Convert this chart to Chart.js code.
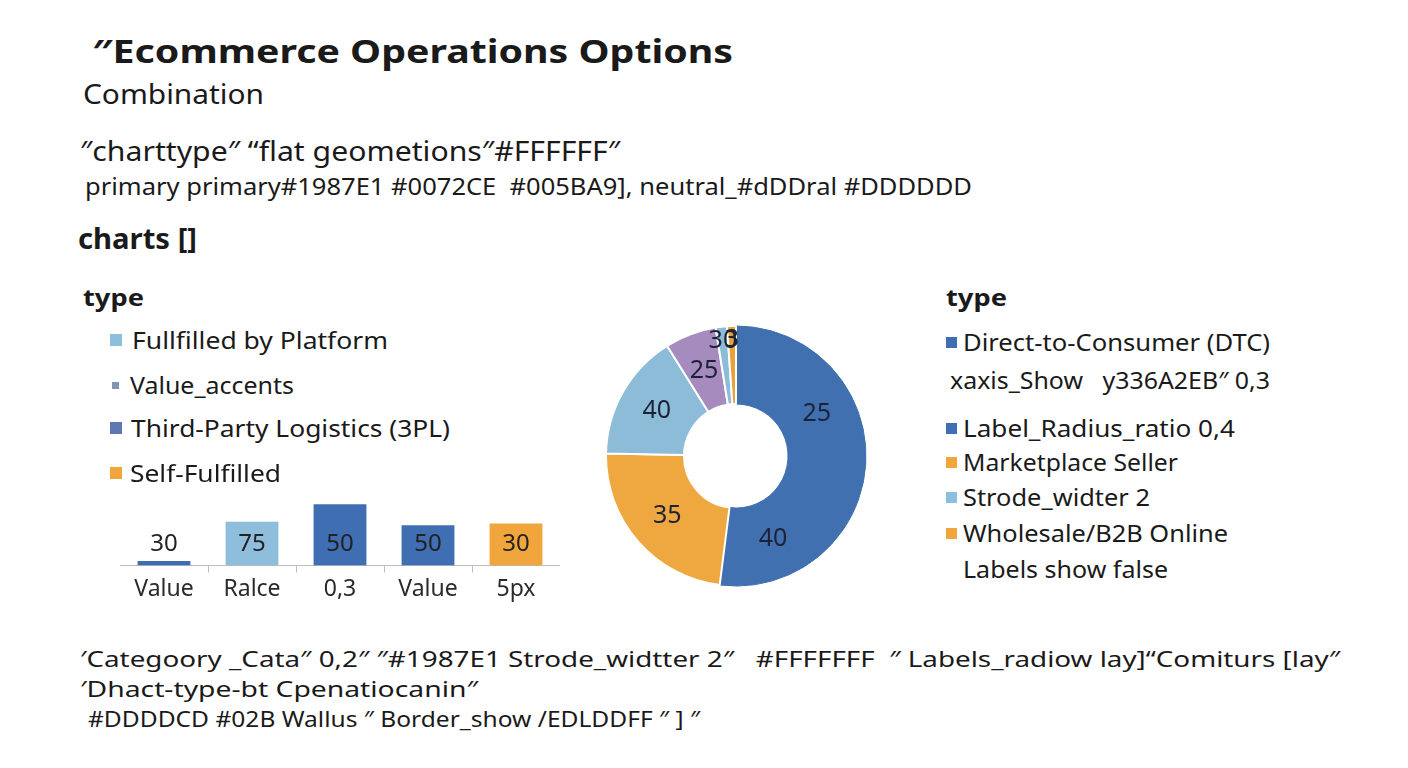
<!DOCTYPE html>
<html lang="en">
<head>
    <meta charset="UTF-8">
    <title>Ecommerce Operations Options</title>
    <script src="https://cdn.jsdelivr.net/npm/chart.js"></script>
    <style>
        body {
            margin: 0;
            width: 1408px;
            height: 768px;
            background: #fff;
            position: relative;
            overflow: hidden;
            font-family: "Noto Sans", "Open Sans", sans-serif;
            color: #1a1a1a;
        }
        .txt {
            position: absolute;
            white-space: pre;
            line-height: 1;
            transform-origin: 0 50%;
        }
        .mark {
            position: absolute;
        }
        #barWrap {
            position: absolute;
            left: 120px;
            top: 478px;
            width: 440px;
            height: 128px;
        }
        #pieWrap {
            position: absolute;
            left: 605px;
            top: 325px;
            width: 262px;
            height: 262px;
        }
    </style>
</head>
<body>

<div id="barWrap"><canvas id="barChart"></canvas></div>
<div id="pieWrap"><canvas id="donutChart"></canvas></div>

<script>
    // bar chart data (heights, printed labels as shown)
    var barCategories = ['Value', 'Ralce', '0,3', 'Value', '5px'];
    var barValues = [5, 50, 70, 46, 48];
    var barValueLabels = ['30', '75', '50', '50', '30'];
    var barColors = ['#3E6CAF', '#8FBEDC', '#3F6EB2', '#3F6EB2', '#F0A63C'];

    // doughnut data (share of the ring, in percent) and the numbers printed on it
    var donutSlices = ['DTC a', 'DTC b', 'Marketplace', 'Platform', '3PL', 'Accents', 'Wholesale'];
    var donutValues = [34.7, 17.3, 23.3, 15.8, 6.4, 1.4, 1.1];
    var donutLabels = ['25', '40', '35', '40', '25', '30', '3'];
    var donutColors = ['#4170B0', '#4170B0', '#EFA73F', '#8DBCD9', '#A68BBF', '#8DBCD9', '#E7A23A'];

    // legends
    var leftLegend = ['Fullfilled by Platform', 'Value_accents', 'Third-Party Logistics (3PL)', 'Self-Fulfilled'];
    var leftLegendColors = ['#8DBEDD', '#8196B3', '#5F78B5', '#F0A63B'];
    var rightLegend = ['Direct-to-Consumer (DTC)', 'xaxis_Show   y336A2EB\u2033 0,3', 'Label_Radius_ratio 0,4',
        'Marketplace Seller', 'Strode_widter 2', 'Wholesale/B2B Online', 'Labels show false'];
    var rightLegendColors = ['#3F6EB2', null, '#3F6EB2', '#F0A63B', '#8DBEDD', '#F0A63B', null];

    // page texts: [text, left, centre y, width, size, bold]
    var texts = [
        ['\u2033Ecommerce Operations Options', 92, 50, 641, 33, true],
        ['Combination', 83, 93, 181, 27, false],
        ['\u2033charttype\u2033 \u201Cflat geometions\u2033#FFFFFF\u2033', 80, 150, 540, 28, false],
        ['primary primary#1987E1 #0072CE  #005BA9], neutral_#dDDral #DDDDDD', 85, 186, 887, 23, false],
        ['charts []', 78, 238, 119, 28, true],
        ['type', 83, 297, 61, 24, true],
        ['type', 946, 297, 61, 24, true],
        ['\u2032Categoory _Cata\u2033 0,2\u2033 \u2033#1987E1 Strode_widtter 2\u2033   #FFFFFFF  \u2033 Labels_radiow lay]\u201CComiturs [lay\u2033', 80, 658, 1260, 22, false],
        ['\u2032Dhact-type-bt Cpenatiocanin\u2033', 80, 688, 398, 22, false],
        ['#DDDDCD #02B Wallus \u2033 Border_show /EDLDDFF \u2033 ] \u2033', 88, 718, 612, 22, false]
    ];
    var leftRows = [[132, 340, 256], [130, 385, 164], [131, 428, 319], [130, 473, 151]];
    var rightRows = [[963, 342, 307], [950, 380, 320], [963, 428, 272], [963, 462, 215],
        [963, 497, 187], [963, 533, 265], [963, 569, 205]];

    function addText(t, x, y, w, size, bold) {
        var d = document.createElement('div');
        d.className = 'txt';
        d.textContent = t;
        d.style.fontSize = size + 'px';
        d.style.fontWeight = bold ? '700' : '400';
        d.style.left = x + 'px';
        d.style.top = (y - size / 2) + 'px';
        document.body.appendChild(d);
        var real = d.getBoundingClientRect().width;
        if (real > 0) d.style.transform = 'scaleX(' + (w / real) + ')';
    }

    function addMark(x, y, s, color) {
        var m = document.createElement('div');
        m.className = 'mark';
        m.style.left = x + 'px';
        m.style.top = (y - s / 2) + 'px';
        m.style.width = s + 'px';
        m.style.height = s + 'px';
        m.style.background = color;
        document.body.appendChild(m);
    }

    texts.forEach(function (t) { addText(t[0], t[1], t[2], t[3], t[4], t[5]); });

    leftLegend.forEach(function (name, i) {
        var r = leftRows[i];
        addText(name, r[0], r[1], r[2], 24, false);
        var s = i === 1 ? 7 : 12;
        addMark(i === 1 ? 112 : 110, r[1], s, leftLegendColors[i]);
    });

    rightLegend.forEach(function (name, i) {
        var r = rightRows[i];
        addText(name, r[0], r[1], r[2], 24, false);
        if (rightLegendColors[i]) addMark(946, r[1], 11, rightLegendColors[i]);
    });

    // numbers on the bars
    var barLabelPlugin = {
        id: 'barLabels',
        afterDatasetsDraw: function (chart) {
            var ctx = chart.ctx;
            var base = chart.scales.y.getPixelForValue(0);
            ctx.save();
            ctx.font = '24px "Noto Sans"';
            ctx.fillStyle = '#222';
            ctx.textAlign = 'center';
            ctx.textBaseline = 'middle';
            chart.getDatasetMeta(0).data.forEach(function (bar, i) {
                ctx.fillText(barValueLabels[i], bar.x, base - 21);
            });
            ctx.restore();
        }
    };

    new Chart(document.getElementById('barChart'), {
        type: 'bar',
        data: {
            labels: barCategories,
            datasets: [{
                data: barValues,
                backgroundColor: barColors,
                categoryPercentage: 0.6,
                barPercentage: 1
            }]
        },
        options: {
            responsive: true,
            maintainAspectRatio: false,
            animation: false,
            layout: { padding: 0 },
            plugins: { legend: { display: false }, tooltip: { enabled: false } },
            scales: {
                y: { display: false, min: 0, max: 100 },
                x: {
                    border: { display: true, color: '#BDBDBD', width: 1 },
                    grid: {
                        drawOnChartArea: false,
                        tickLength: 7,
                        color: function (c) {
                            return (c.index === 0 || c.index === barCategories.length) ? 'rgba(0,0,0,0)' : '#BDBDBD';
                        }
                    },
                    ticks: { color: '#2a2a2a', font: { family: 'Noto Sans', size: 23 }, padding: 3 }
                }
            }
        },
        plugins: [barLabelPlugin]
    });

    // numbers on the ring
    var donutLabelPlugin = {
        id: 'donutLabels',
        afterDatasetsDraw: function (chart) {
            var ctx = chart.ctx;
            ctx.save();
            ctx.font = '25px "Noto Sans"';
            ctx.fillStyle = '#1d2336';
            ctx.textAlign = 'center';
            ctx.textBaseline = 'middle';
            chart.getDatasetMeta(0).data.forEach(function (arc, i) {
                var p = arc.getProps(['x', 'y', 'startAngle', 'endAngle', 'innerRadius', 'outerRadius']);
                var mid = (p.startAngle + p.endAngle) / 2;
                var small = (p.endAngle - p.startAngle) < 0.15;
                var r = small ? p.outerRadius - 14 : (p.innerRadius + p.outerRadius) / 2;
                ctx.fillText(donutLabels[i], p.x + Math.cos(mid) * r, p.y + Math.sin(mid) * r);
            });
            ctx.restore();
        }
    };

    new Chart(document.getElementById('donutChart'), {
        type: 'doughnut',
        data: {
            labels: donutSlices,
            datasets: [{
                data: donutValues,
                backgroundColor: donutColors,
                borderColor: ['#4170B0', '#4170B0', '#fff', '#fff', '#fff', '#fff', '#fff'],
                borderWidth: [1, 1, 2, 2, 2, 2, 2],
                hoverOffset: 0
            }]
        },
        options: {
            responsive: true,
            maintainAspectRatio: false,
            animation: false,
            cutout: '40%',
            layout: { padding: 0 },
            plugins: { legend: { display: false }, tooltip: { enabled: false } }
        },
        plugins: [donutLabelPlugin]
    });
</script>

</body>
</html>
